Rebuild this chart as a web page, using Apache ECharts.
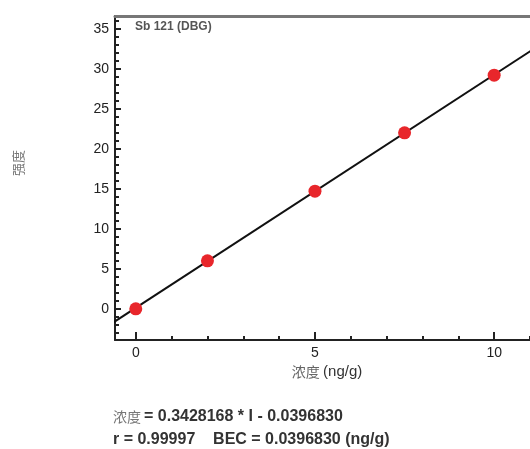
<!DOCTYPE html>
<html>
<head>
<meta charset="utf-8">
<script src="https://cdn.jsdelivr.net/npm/echarts@6/dist/echarts.min.js"></script>
<style>
html,body{margin:0;padding:0;background:#fff;}
#main{width:530px;height:449px;}
</style>
</head>
<body>
<div id="main"></div>
<script>
// calibration points
var concX = [0, 2, 5, 7.5, 10];
var intensY = [0, 6.0, 14.7, 22.0, 29.2];
// fitted line endpoints
var fitX = [-1, 12];
var fitY = [-2.8, 35.1];
var xMajor = [0, 5, 10];
var xMinor = [1, 2, 3, 4, 6, 7, 8, 9, 11];
var yMajor = [0, 5, 10, 15, 20, 25, 30, 35];
var yMinor = [-3, -2, -1, 1, 2, 3, 4, 6, 7, 8, 9, 11, 12, 13, 14, 16, 17, 18, 19, 21, 22, 23, 24, 26, 27, 28, 29, 31, 32, 33, 34, 36];

var myChart = echarts.init(document.getElementById('main'));
var font = 'Liberation Sans, Arial, Noto Sans CJK SC, sans-serif';
var cjk = 'Noto Sans CJK SC, sans-serif';
var xMin = -0.58, xMax = 11, yMin = -3.9, yMax = 36.6;

function pts(xs, ys) {
    var d = [];
    for (var i = 0; i < xs.length; i++) d.push([xs[i], ys[i]]);
    return d;
}

var option = {
    animation: false,
    grid: { left: 115, top: 16, bottom: 109, right: -5 },
    xAxis: [{
        type: 'value', min: xMin, max: xMax, position: 'bottom',
        axisLine: { onZero: false, lineStyle: { color: '#222', width: 2 } },
        axisTick: { inside: true, length: 8, customValues: xMajor, lineStyle: { color: '#222', width: 2 } },
        axisLabel: { customValues: xMajor, color: '#222', fontSize: 14, fontFamily: font, margin: 6 },
        splitLine: { show: false }
    }, {
        type: 'value', min: xMin, max: xMax, position: 'bottom',
        axisLine: { show: false, onZero: false },
        axisTick: { inside: true, length: 4, customValues: xMinor, lineStyle: { color: '#222', width: 2 } },
        axisLabel: { show: false },
        splitLine: { show: false }
    }, {
        type: 'value', min: xMin, max: xMax, position: 'top',
        axisLine: { onZero: false, lineStyle: { color: '#777', width: 3 } },
        axisTick: { show: false }, axisLabel: { show: false }, splitLine: { show: false }
    }],
    yAxis: [{
        type: 'value', min: yMin, max: yMax, position: 'left',
        axisLine: { show: true, onZero: false, lineStyle: { color: '#222', width: 2 } },
        axisTick: { inside: true, length: 6, customValues: yMajor, lineStyle: { color: '#222', width: 2 } },
        axisLabel: { customValues: yMajor, color: '#222', fontSize: 14, fontFamily: font, margin: 6 },
        splitLine: { show: false }
    }, {
        type: 'value', min: yMin, max: yMax, position: 'left',
        axisLine: { show: false, onZero: false },
        axisTick: { inside: true, length: 4, customValues: yMinor, lineStyle: { color: '#222', width: 2 } },
        axisLabel: { show: false },
        splitLine: { show: false }
    }],
    series: [{
        type: 'line',
        data: pts(fitX, fitY),
        symbol: 'none',
        clip: true,
        lineStyle: { color: '#111', width: 2 },
        z: 2
    }, {
        type: 'scatter',
        data: pts(concX, intensY),
        symbolSize: 13,
        itemStyle: { color: '#e8262b', opacity: 1 },
        z: 3
    }],
    graphic: [
        { type: 'text', x: 135, y: 27, style: { text: 'Sb 121 (DBG)', font: 'bold 12px ' + font, fill: '#555', verticalAlign: 'middle' } },
        { type: 'text', x: 327, y: 372, style: {
            text: '{c|浓度} {l|(ng/g)}', align: 'center', verticalAlign: 'middle',
            rich: { c: { fontSize: 14, fontFamily: cjk, fill: '#666' }, l: { fontSize: 15, fontFamily: font, fill: '#333' } } } },
        { type: 'text', x: 18, y: 163, rotation: Math.PI / 2, style: { text: '强度', font: '13px ' + cjk, fill: '#777', align: 'center', verticalAlign: 'middle' } },
        { type: 'text', x: 113, y: 417, style: {
            text: '{c|浓度}{l|= 0.3428168 * I - 0.0396830}', verticalAlign: 'middle',
            rich: { c: { fontSize: 14, fontFamily: cjk, fill: '#777', padding: [0, 3, 0, 0] }, l: { fontSize: 16, fontWeight: 'bold', fontFamily: font, fill: '#333' } } } },
        { type: 'text', x: 113, y: 440, style: {
            text: 'r = 0.99997    BEC = 0.0396830 (ng/g)', verticalAlign: 'middle', fontSize: 16, fontWeight: 'bold', fontFamily: font, fill: '#333' } }
    ]
};
myChart.setOption(option);
</script>
</body>
</html>
